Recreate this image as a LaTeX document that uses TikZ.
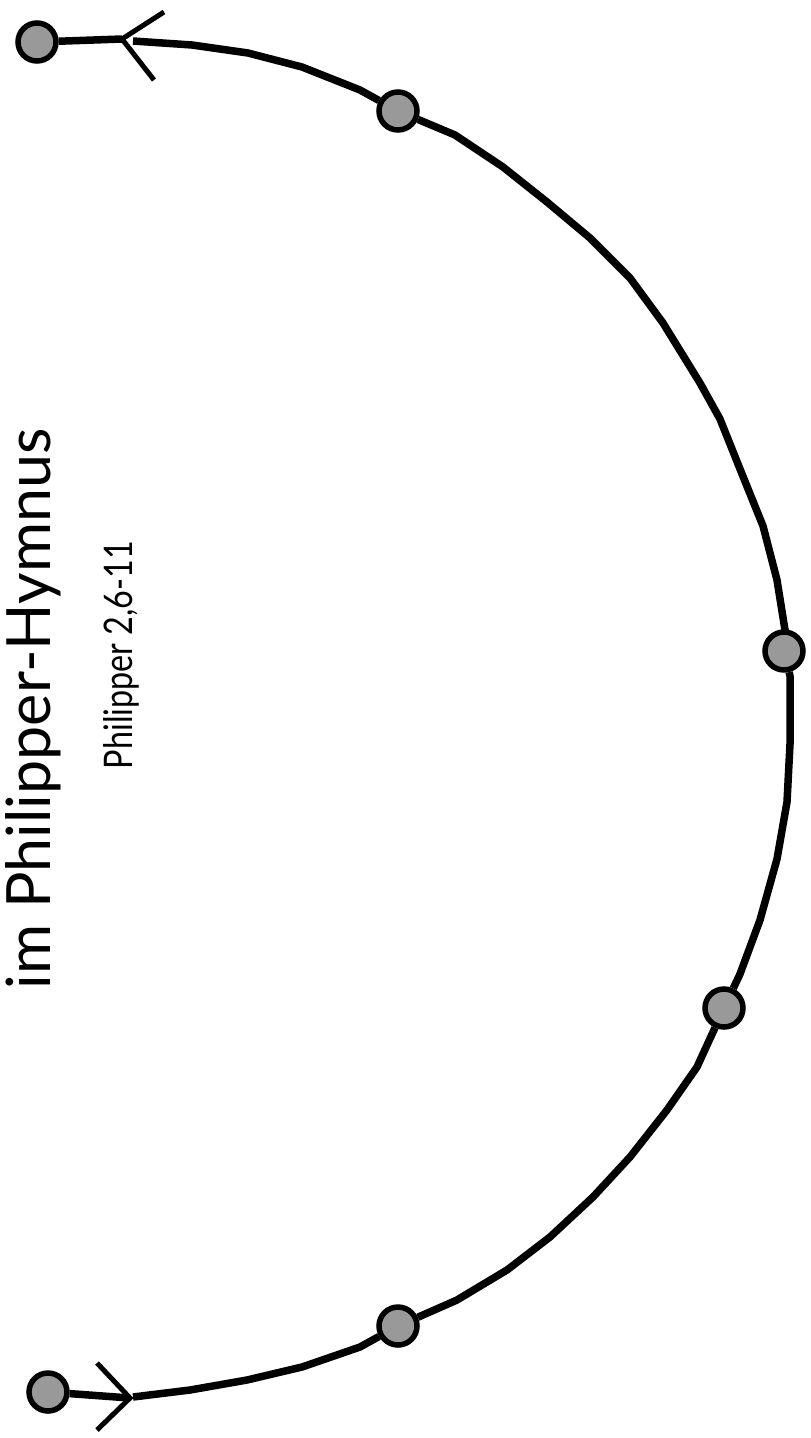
\documentclass[tikz,border=0pt]{standalone}
\usepackage{fontspec}
\setmainfont{Lato}
\usepackage{graphicx}
\definecolor{dotgray}{HTML}{999999}
\tikzset{
  dot/.style={circle, draw=black, fill=dotgray, line width=5.5pt, minimum size=38pt, inner sep=0pt},
  curve/.style={line width=7.5pt, line join=round},
  stem/.style={line width=7.5pt},
  arm/.style={line width=5pt, line join=miter},
  label/.style={rotate=90, anchor=base west, inner sep=0pt, outer sep=0pt}
}
\begin{document}
\begin{tikzpicture}[x=1pt,y=-1pt]
\useasboundingbox (0,0) rectangle (811,1438);
% text
\node[label] (title) at (50,989) {\resizebox{560pt}{45pt}{im Philipper-Hymnus}};
\node[label] (ref) at (132,769) {\resizebox{228pt}{29pt}{Philipper 2,6-11}};
% dots
\node[dot] (d1) at (37,42) {};
\node[dot] (d2) at (398,111) {};
\node[dot] (d3) at (784,651) {};
\node[dot] (d4) at (724,1008) {};
\node[dot] (d5) at (398,1326) {};
\node[dot] (d6) at (48,1392) {};
% arrow coordinates
\coordinate (tipT) at (122,39);
\coordinate (armT1) at (164,12);
\coordinate (armT2) at (154,80);
\coordinate (cT) at (133,41);
\coordinate (tipB) at (130,1398);
\coordinate (armB1) at (97,1363);
\coordinate (armB2) at (97,1430);
\coordinate (cB) at (133,1397);
% stems and arrowheads
\draw[stem] (d1) -- (tipT);
\draw[arm] (armT1) -- (tipT) -- (armT2);
\draw[stem] (d6) -- (tipB);
\draw[arm] (armB1) -- (tipB) -- (armB2);
% arc
\draw[curve] (cT) -- (192,45) -- (248,53) -- (302,67) -- (360,90) -- (d2);
\draw[curve] (d2) -- (455,135) -- (503,167) -- (547,202) -- (590,238) -- (630,278) -- (663,323) -- (700,383) -- (720,419) -- (740,469) -- (763,526) -- (777,580) -- (785,630) -- (d3);
\draw[curve] (d3) -- (790,676) -- (790,744) -- (787,802) -- (777,859) -- (760,920) -- (740,974) -- (d4);
\draw[curve] (d4) -- (697,1067) -- (667,1110) -- (630,1157) -- (593,1197) -- (550,1237) -- (507,1270) -- (457,1300) -- (d5);
\draw[curve] (d5) -- (360,1347) -- (302,1367) -- (247,1380) -- (190,1390) -- (cB);
\end{tikzpicture}
\end{document}
